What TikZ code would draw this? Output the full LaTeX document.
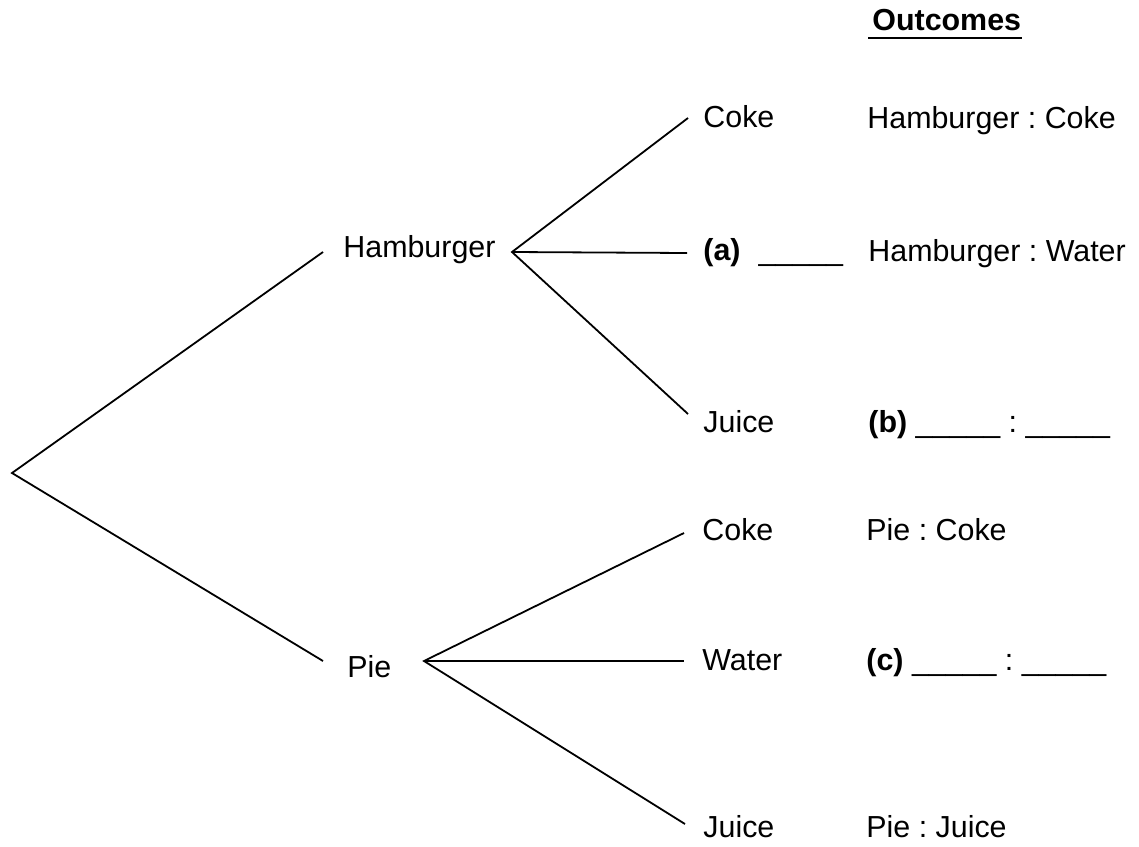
\documentclass[tikz,border=0pt]{standalone}
\usepackage{fontspec}
\setmainfont{Liberation Sans}
\frenchspacing
\begin{document}
\begin{tikzpicture}[x=0.5pt,y=-0.5pt,
  branch/.style={line width=0.9pt},
  lbl/.style={anchor=base west,inner sep=0pt,font=\fontsize{15.2pt}{18pt}\selectfont}]
\useasboundingbox (0,0) rectangle (1139,846);
% branch end points
\coordinate (root) at (12,473);
\coordinate (hamIn) at (323,252);
\coordinate (hamOut) at (512,252);
\coordinate (pieIn) at (323,661);
\coordinate (pieOut) at (424,661);
\coordinate (hc) at (688,118);
\coordinate (hw) at (687,253);
\coordinate (hj) at (688,414);
\coordinate (pc) at (684,533);
\coordinate (pw) at (684,661);
\coordinate (pj) at (685,824);
% labels
\node[lbl] (ham) at (343,257) {Hamburger};
\node[lbl] (pie) at (347,677) {Pie};
\node[lbl] (hcT) at (703,127) {Coke};
\node[lbl] (hwT) at (703,260) {\textbf{(a)}\hspace{9pt}\_\_\_\_\_};
\node[lbl] (hjT) at (703,432) {Juice};
\node[lbl] (pcT) at (702,540) {Coke};
\node[lbl] (pwT) at (702,670) {Water};
\node[lbl] (pjT) at (703,837) {Juice};
% outcomes
\node[lbl,font=\fontsize{15.2pt}{18pt}\selectfont\bfseries] (out) at (872,30) {Outcomes};
\draw[line width=1.3pt] ([shift={(-2pt,-4pt)}]out.base west) -- ([shift={(0.5pt,-4pt)}]out.base east);
\node[lbl] (o1) at (867,128) {Hamburger : Coke};
\node[lbl] (o2) at (868,261) {Hamburger : Water};
\node[lbl] (o3) at (868,432) {\textbf{(b)} \_\_\_\_\_ : \_\_\_\_\_};
\node[lbl] (o4) at (866,540) {Pie : Coke};
\node[lbl] (o5) at (866,670) {\textbf{(c)} \_\_\_\_\_ : \_\_\_\_\_};
\node[lbl] (o6) at (866,837) {Pie : Juice};
% branches
\draw[branch] (hamIn) -- (root) -- (pieIn);
\draw[branch] (hc) -- (hamOut) -- (hj);
\draw[branch] (hamOut) -- (hw);
\draw[branch] (pc) -- (pieOut) -- (pj);
\draw[branch] (pieOut) -- (pw);
\end{tikzpicture}
\end{document}
